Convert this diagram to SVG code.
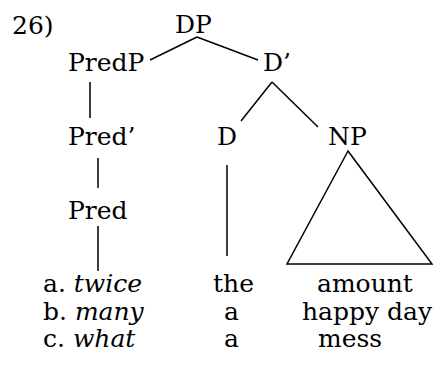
<svg xmlns="http://www.w3.org/2000/svg" width="436" height="370" viewBox="0 0 436 370">
  <style>
    text { font-family: "DejaVu Serif", serif; font-size: 25px; fill: #000; }
    .it { font-style: italic; }
    .edge { stroke: #000; stroke-width: 1.5; fill: none; }
  </style>
  <rect width="436" height="370" fill="#fff"/>
  <text x="12" y="34">26)</text>

  <g id="connectors">
    <line class="edge" x1="150" y1="60" x2="197" y2="37"/>
    <line class="edge" x1="197" y1="37" x2="258" y2="60"/>
    <line class="edge" x1="272" y1="82" x2="241" y2="121"/>
    <line class="edge" x1="272" y1="82" x2="318" y2="127"/>
    <line class="edge" x1="90" y1="82" x2="90" y2="118"/>
    <line class="edge" x1="98" y1="158" x2="98" y2="188"/>
    <line class="edge" x1="98" y1="226" x2="98" y2="271"/>
    <line class="edge" x1="227" y1="165" x2="227" y2="256"/>
    <polygon class="edge" points="348,151 287,264 432,264"/>
  </g>

  <g id="DP"><text x="175" y="33">DP</text></g>
  <g id="PredP"><text x="68" y="71">PredP</text></g>
  <g id="Dbar"><text x="263" y="71">D’</text></g>
  <g id="Predbar"><text x="68" y="145">Pred’</text></g>
  <g id="D"><text x="217" y="145">D</text></g>
  <g id="NP"><text x="328" y="145">NP</text></g>
  <g id="Pred"><text x="68" y="219">Pred</text></g>

  <g id="examples">
    <text x="43" y="292">a. <tspan class="it">twice</tspan></text>
    <text x="43" y="320">b. <tspan class="it">many</tspan></text>
    <text x="43" y="347">c. <tspan class="it">what</tspan></text>
    <text x="213" y="292">the</text>
    <text x="224" y="320">a</text>
    <text x="224" y="347">a</text>
    <text x="317" y="292">amount</text>
    <text x="302" y="320">happy day</text>
    <text x="318" y="347">mess</text>
  </g>
</svg>
